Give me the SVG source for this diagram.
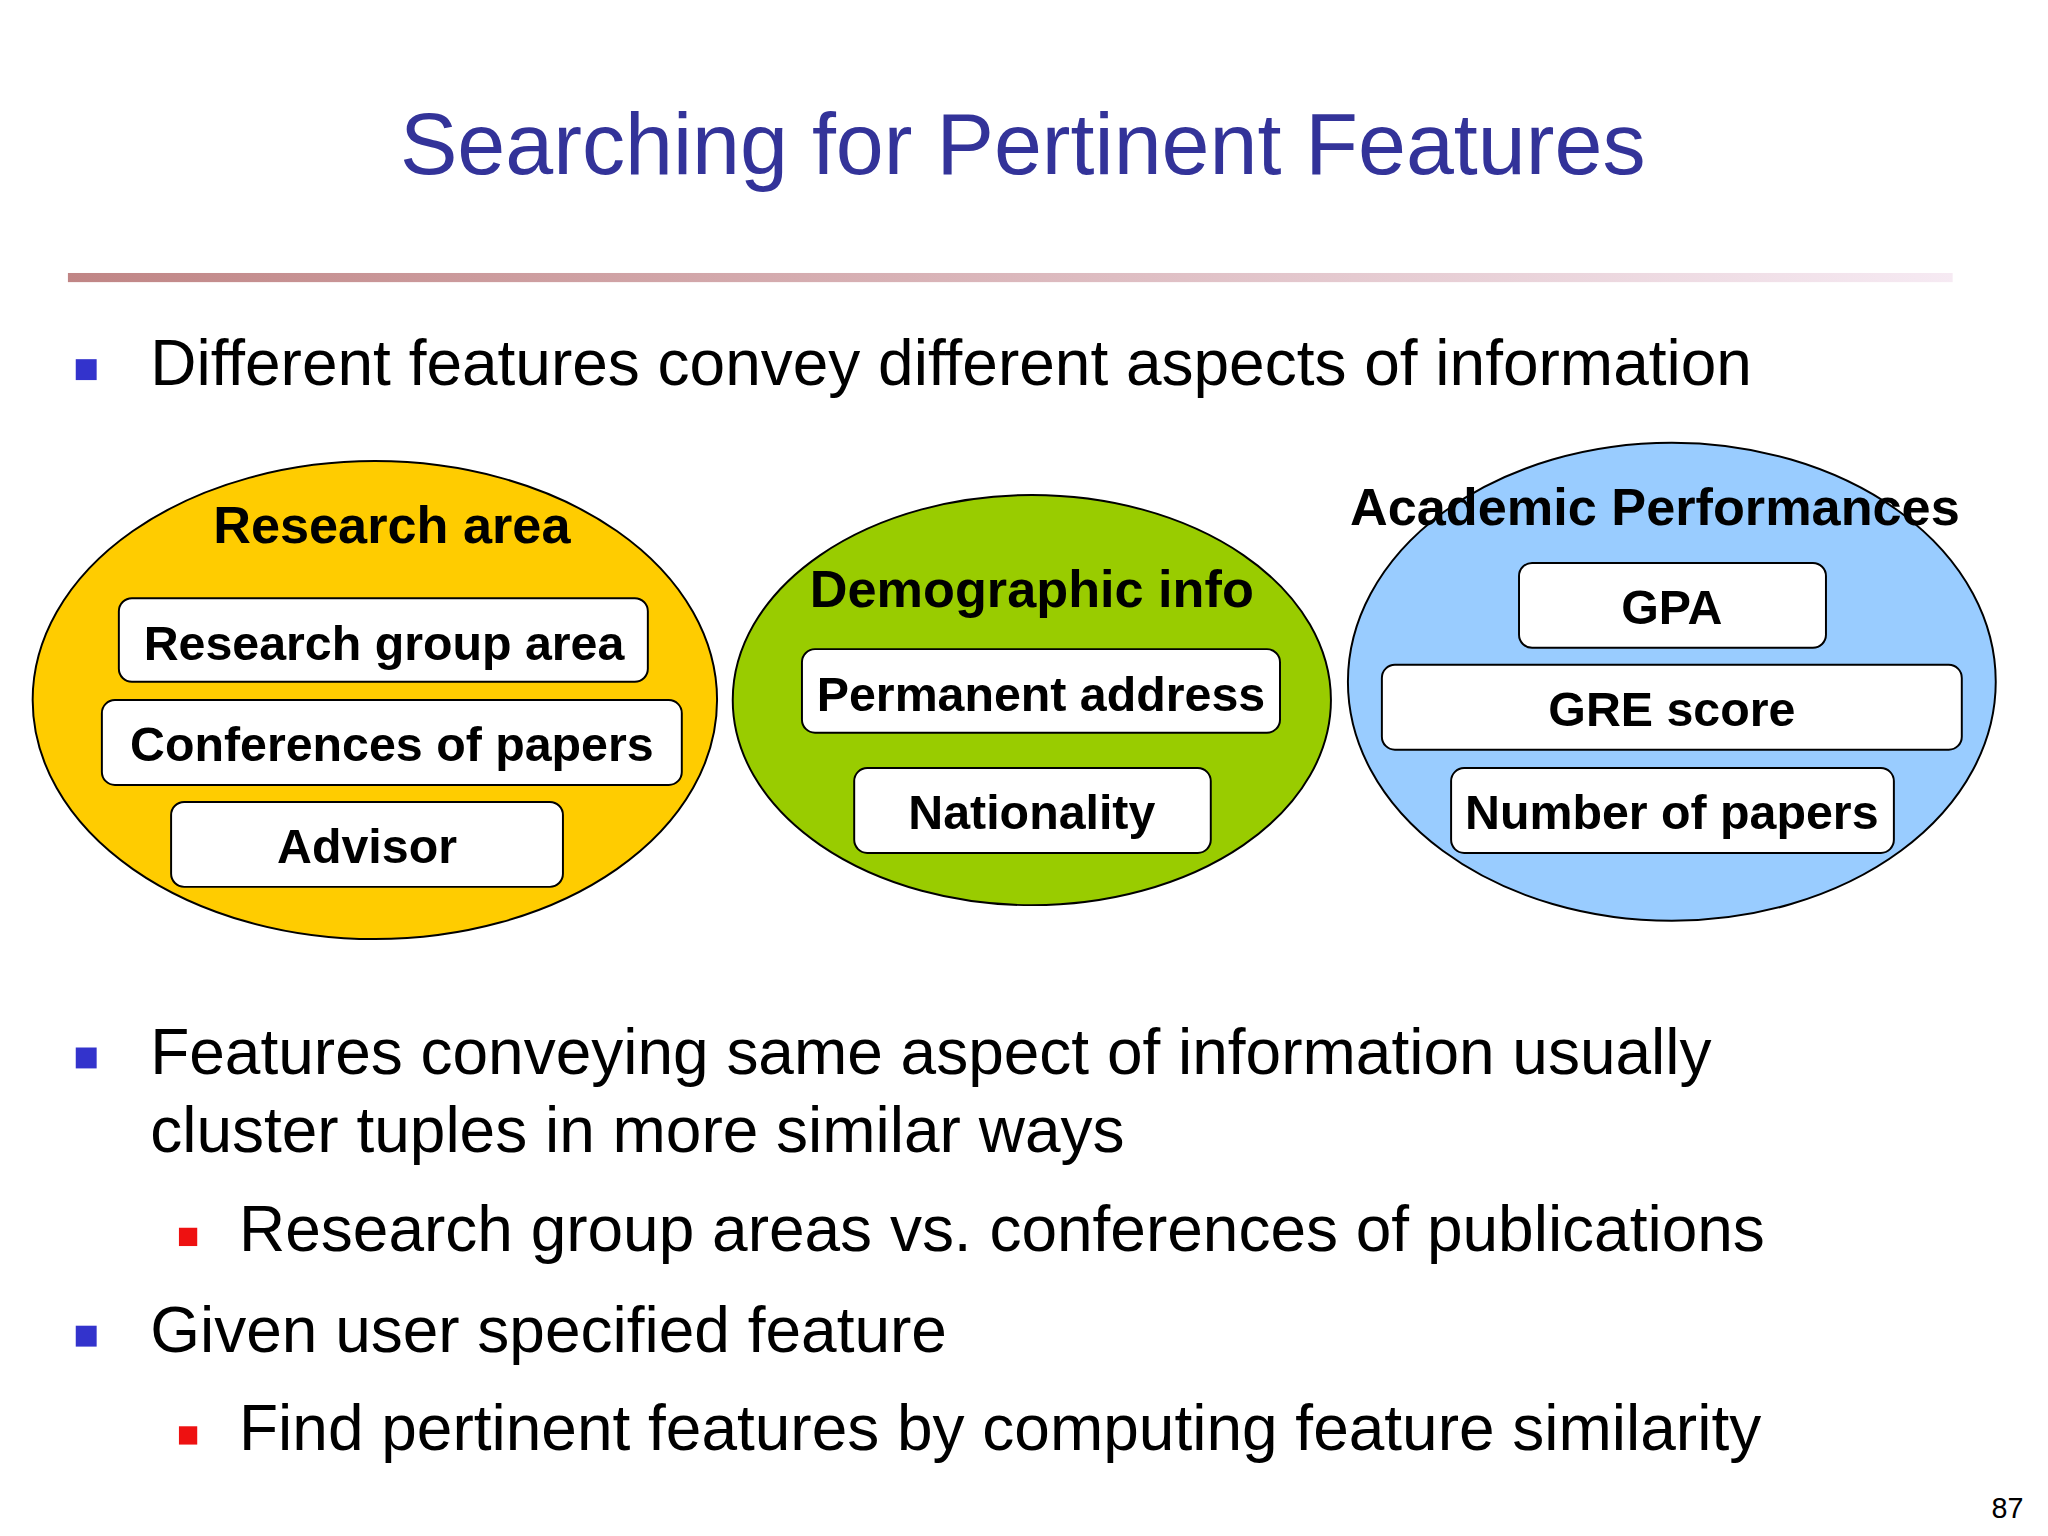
<svg xmlns="http://www.w3.org/2000/svg" width="2048" height="1536" viewBox="0 0 2048 1536">
<defs>
<linearGradient id="rule" x1="0" x2="1" y1="0" y2="0"><stop offset="0" stop-color="#c08585"/><stop offset="1" stop-color="#f6eaf3"/></linearGradient>
<style>
.t{font-family:"Liberation Sans",Arial,sans-serif;fill:#000}
.b{font-family:"Liberation Sans",Arial,sans-serif;font-weight:bold;fill:#000;text-anchor:middle}
.box{fill:#fff;stroke:#000;stroke-width:1.5}
.ell{stroke:#000;stroke-width:1.5}
</style>
</defs>
<rect width="2048" height="1536" fill="#fff"/>
<g transform="scale(1.30612)">
<text x="783" y="133" class="t" style="font-size:66px;fill:#333399;text-anchor:middle">Searching for Pertinent Features</text>
<rect x="52" y="209" width="1443" height="7" fill="url(#rule)"/>
<rect x="58" y="275" width="16" height="16" fill="#3333cc"/>
<text x="115" y="295" class="t" style="font-size:49px">Different features convey different aspects of information</text>

<g id="research">
<ellipse class="ell" cx="287" cy="536" rx="262" ry="183" fill="#ffcc00"/>
<text x="300" y="416" class="b" style="font-size:40px">Research area</text>
<rect class="box" x="91" y="458" width="405" height="64" rx="10"/>
<text x="294" y="505" class="b" style="font-size:37px">Research group area</text>
<rect class="box" x="78" y="536" width="444" height="65" rx="10"/>
<text x="300" y="583" class="b" style="font-size:37px">Conferences of papers</text>
<rect class="box" x="131" y="614" width="300" height="65" rx="10"/>
<text x="281" y="661" class="b" style="font-size:37px">Advisor</text>
</g>
<g id="demographic">
<ellipse class="ell" cx="790" cy="536" rx="229" ry="157" fill="#99cc00"/>
<text x="790" y="465" class="b" style="font-size:40px">Demographic info</text>
<rect class="box" x="614" y="497" width="366" height="64" rx="10"/>
<text x="797" y="544" class="b" style="font-size:37px">Permanent address</text>
<rect class="box" x="654" y="588" width="273" height="65" rx="10"/>
<text x="790" y="635" class="b" style="font-size:37px">Nationality</text>
</g>
<g id="academic">
<ellipse class="ell" cx="1280" cy="522" rx="248" ry="183" fill="#99ccff"/>
<text x="1267" y="402" class="b" style="font-size:40px">Academic Performances</text>
<rect class="box" x="1163" y="431" width="235" height="65" rx="10"/>
<text x="1280" y="478" class="b" style="font-size:37px">GPA</text>
<rect class="box" x="1058" y="509" width="444" height="65" rx="10"/>
<text x="1280" y="556" class="b" style="font-size:37px">GRE score</text>
<rect class="box" x="1111" y="588" width="339" height="65" rx="10"/>
<text x="1280" y="635" class="b" style="font-size:37px">Number of papers</text>
</g>
<g id="connectors"/>

<rect x="58" y="802" width="16" height="16" fill="#3333cc"/>
<text x="115" y="822" class="t" style="font-size:49px">Features conveying same aspect of information usually</text>
<text x="115" y="882" class="t" style="font-size:49px">cluster tuples in more similar ways</text>
<rect x="137" y="940" width="14" height="14" fill="#ee1111"/>
<text x="183" y="958" class="t" style="font-size:49px">Research group areas vs. conferences of publications</text>
<rect x="58" y="1015" width="16" height="16" fill="#3333cc"/>
<text x="115" y="1035" class="t" style="font-size:49px">Given user specified feature</text>
<rect x="137" y="1092" width="14" height="14" fill="#ee1111"/>
<text x="183" y="1110" class="t" style="font-size:49px">Find pertinent features by computing feature similarity</text>
<text x="1537" y="1162" class="t" style="font-size:22px;text-anchor:middle">87</text>
</g>
</svg>
